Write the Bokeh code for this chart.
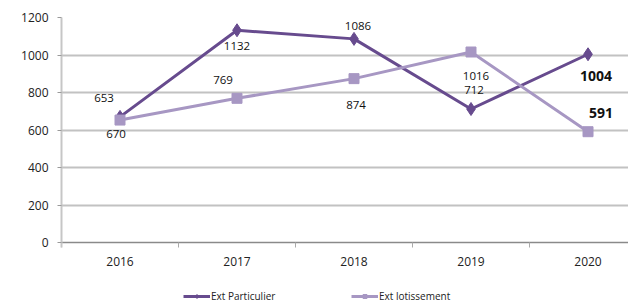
from bokeh.plotting import figure
from bokeh.models import (Range1d, FixedTicker, LinearAxis, Legend, LegendItem,
                          ColumnDataSource, Grid)
from bokeh.embed import file_html
from bokeh.resources import INLINE
from bokeh.core.properties import value

# ---- data ----
years = ["2016", "2017", "2018", "2019", "2020"]
particulier = [670, 1132, 1086, 712, 1004]
lotissement = [653, 769, 874, 1016, 591]
y_ticks = [0, 200, 400, 600, 800, 1000, 1200]

# ---- label placement (style, screen px; +dy = down) ----
part_dx = [-4, 0, 4, 3, 8]
part_dy = [17, 16, -13, -19, 22]
part_style = ["normal", "normal", "normal", "normal", "bold"]
lot_dx = [-16, -14, 2, 5, 13]
lot_dy = [-22, -18, 26, 24, -19]
lot_style = ["normal", "normal", "normal", "normal", "bold"]
label_size = ["11.5px", "11.5px", "11.5px", "11.5px", "14px"]

DARK = "#674B8E"
LIGHT = "#A797C3"
FONT = "Open Sans"
TXT = "#222222"

xs = [i + 0.5 for i in range(len(years))]

# frame spans down to the page bottom so the legend can sit under the x axis
p = figure(frame_width=567, frame_height=286, output_backend="svg", toolbar_location=None,
           x_range=Range1d(0, 4.846), y_range=Range1d(-325.3, 1200),
           x_axis_location=None, y_axis_location=None,
           min_border_left=61, min_border_top=17, min_border_bottom=0,
           min_border_right=0)
p.outline_line_color = None
p.background_fill_color = "white"
p.border_fill_color = "white"

# y axis
yax = LinearAxis(ticker=FixedTicker(ticks=y_ticks), bounds=(-27, 1200))
yax.axis_line_color = "#c6c6c6"
yax.axis_line_width = 2
yax.major_tick_line_color = "#9a9a9a"
yax.major_tick_out = 4
yax.major_tick_in = 0
yax.minor_tick_line_color = None
yax.major_label_text_font = FONT
yax.major_label_text_font_size = "12px"
yax.major_label_text_color = TXT
yax.major_label_standoff = 9
p.add_layout(yax, "left")

# x axis, drawn at y = 0
xax = LinearAxis(ticker=FixedTicker(ticks=xs, minor_ticks=list(range(len(years) + 1))),
                 fixed_location=0)
xax.major_label_overrides = {x: y for x, y in zip(xs, years)}
xax.axis_line_color = "#8a8a8a"
xax.axis_line_width = 1.5
xax.major_tick_line_color = None
xax.minor_tick_line_color = "#aaaaaa"
xax.minor_tick_out = 5
xax.minor_tick_in = 0
xax.major_label_text_font = FONT
xax.major_label_text_font_size = "12px"
xax.major_label_text_color = TXT
xax.major_label_standoff = 8
p.add_layout(xax, "below")

p.ygrid.ticker = FixedTicker(ticks=y_ticks[1:-1])
p.ygrid.grid_line_color = "#c2c2c2"
p.ygrid.grid_line_width = 2
p.xgrid.grid_line_color = None
top_grid = Grid(dimension=1, ticker=FixedTicker(ticks=y_ticks[-1:]),
                grid_line_color="#8c8c8c", grid_line_width=1.5)
p.add_layout(top_grid)

# series
l1 = p.line(xs, particulier, line_color=DARK, line_width=3)
m1 = p.scatter(xs, particulier, marker="diamond", size=13, fill_color=DARK, line_color=DARK)
l2 = p.line(xs, lotissement, line_color=LIGHT, line_width=3)
m2 = p.scatter(xs, lotissement, marker="square", size=10, fill_color=LIGHT, line_color=LIGHT)

# data labels
src1 = ColumnDataSource(dict(x=xs, y=particulier, t=[str(v) for v in particulier],
                             dx=part_dx, dy=part_dy, fs=part_style, sz=label_size))
src2 = ColumnDataSource(dict(x=xs, y=lotissement, t=[str(v) for v in lotissement],
                             dx=lot_dx, dy=lot_dy, fs=lot_style, sz=label_size))
for s in (src1, src2):
    p.text(x="x", y="y", text="t", x_offset="dx", y_offset="dy", source=s,
           text_font=value(FONT), text_font_size="sz", text_font_style="fs",
           text_color="#111111", text_align="center", text_baseline="middle")

legend = Legend(items=[LegendItem(label="Ext Particulier", renderers=[l1, m1]),
                       LegendItem(label="Ext lotissement", renderers=[l2, m2])],
                orientation="horizontal", location=(122, 0))
legend.label_text_font = FONT
legend.label_text_font_size = "10px"
legend.label_text_color = TXT
legend.glyph_width = 27
legend.glyph_height = 10
legend.label_standoff = 1
legend.label_width = 127
legend.spacing = 13
legend.padding = 0
legend.margin = 0
legend.border_line_color = None
legend.background_fill_alpha = 0
legend.label_height = 12
p.add_layout(legend, "center")

open("out.html", "w").write(file_html(p, INLINE))
